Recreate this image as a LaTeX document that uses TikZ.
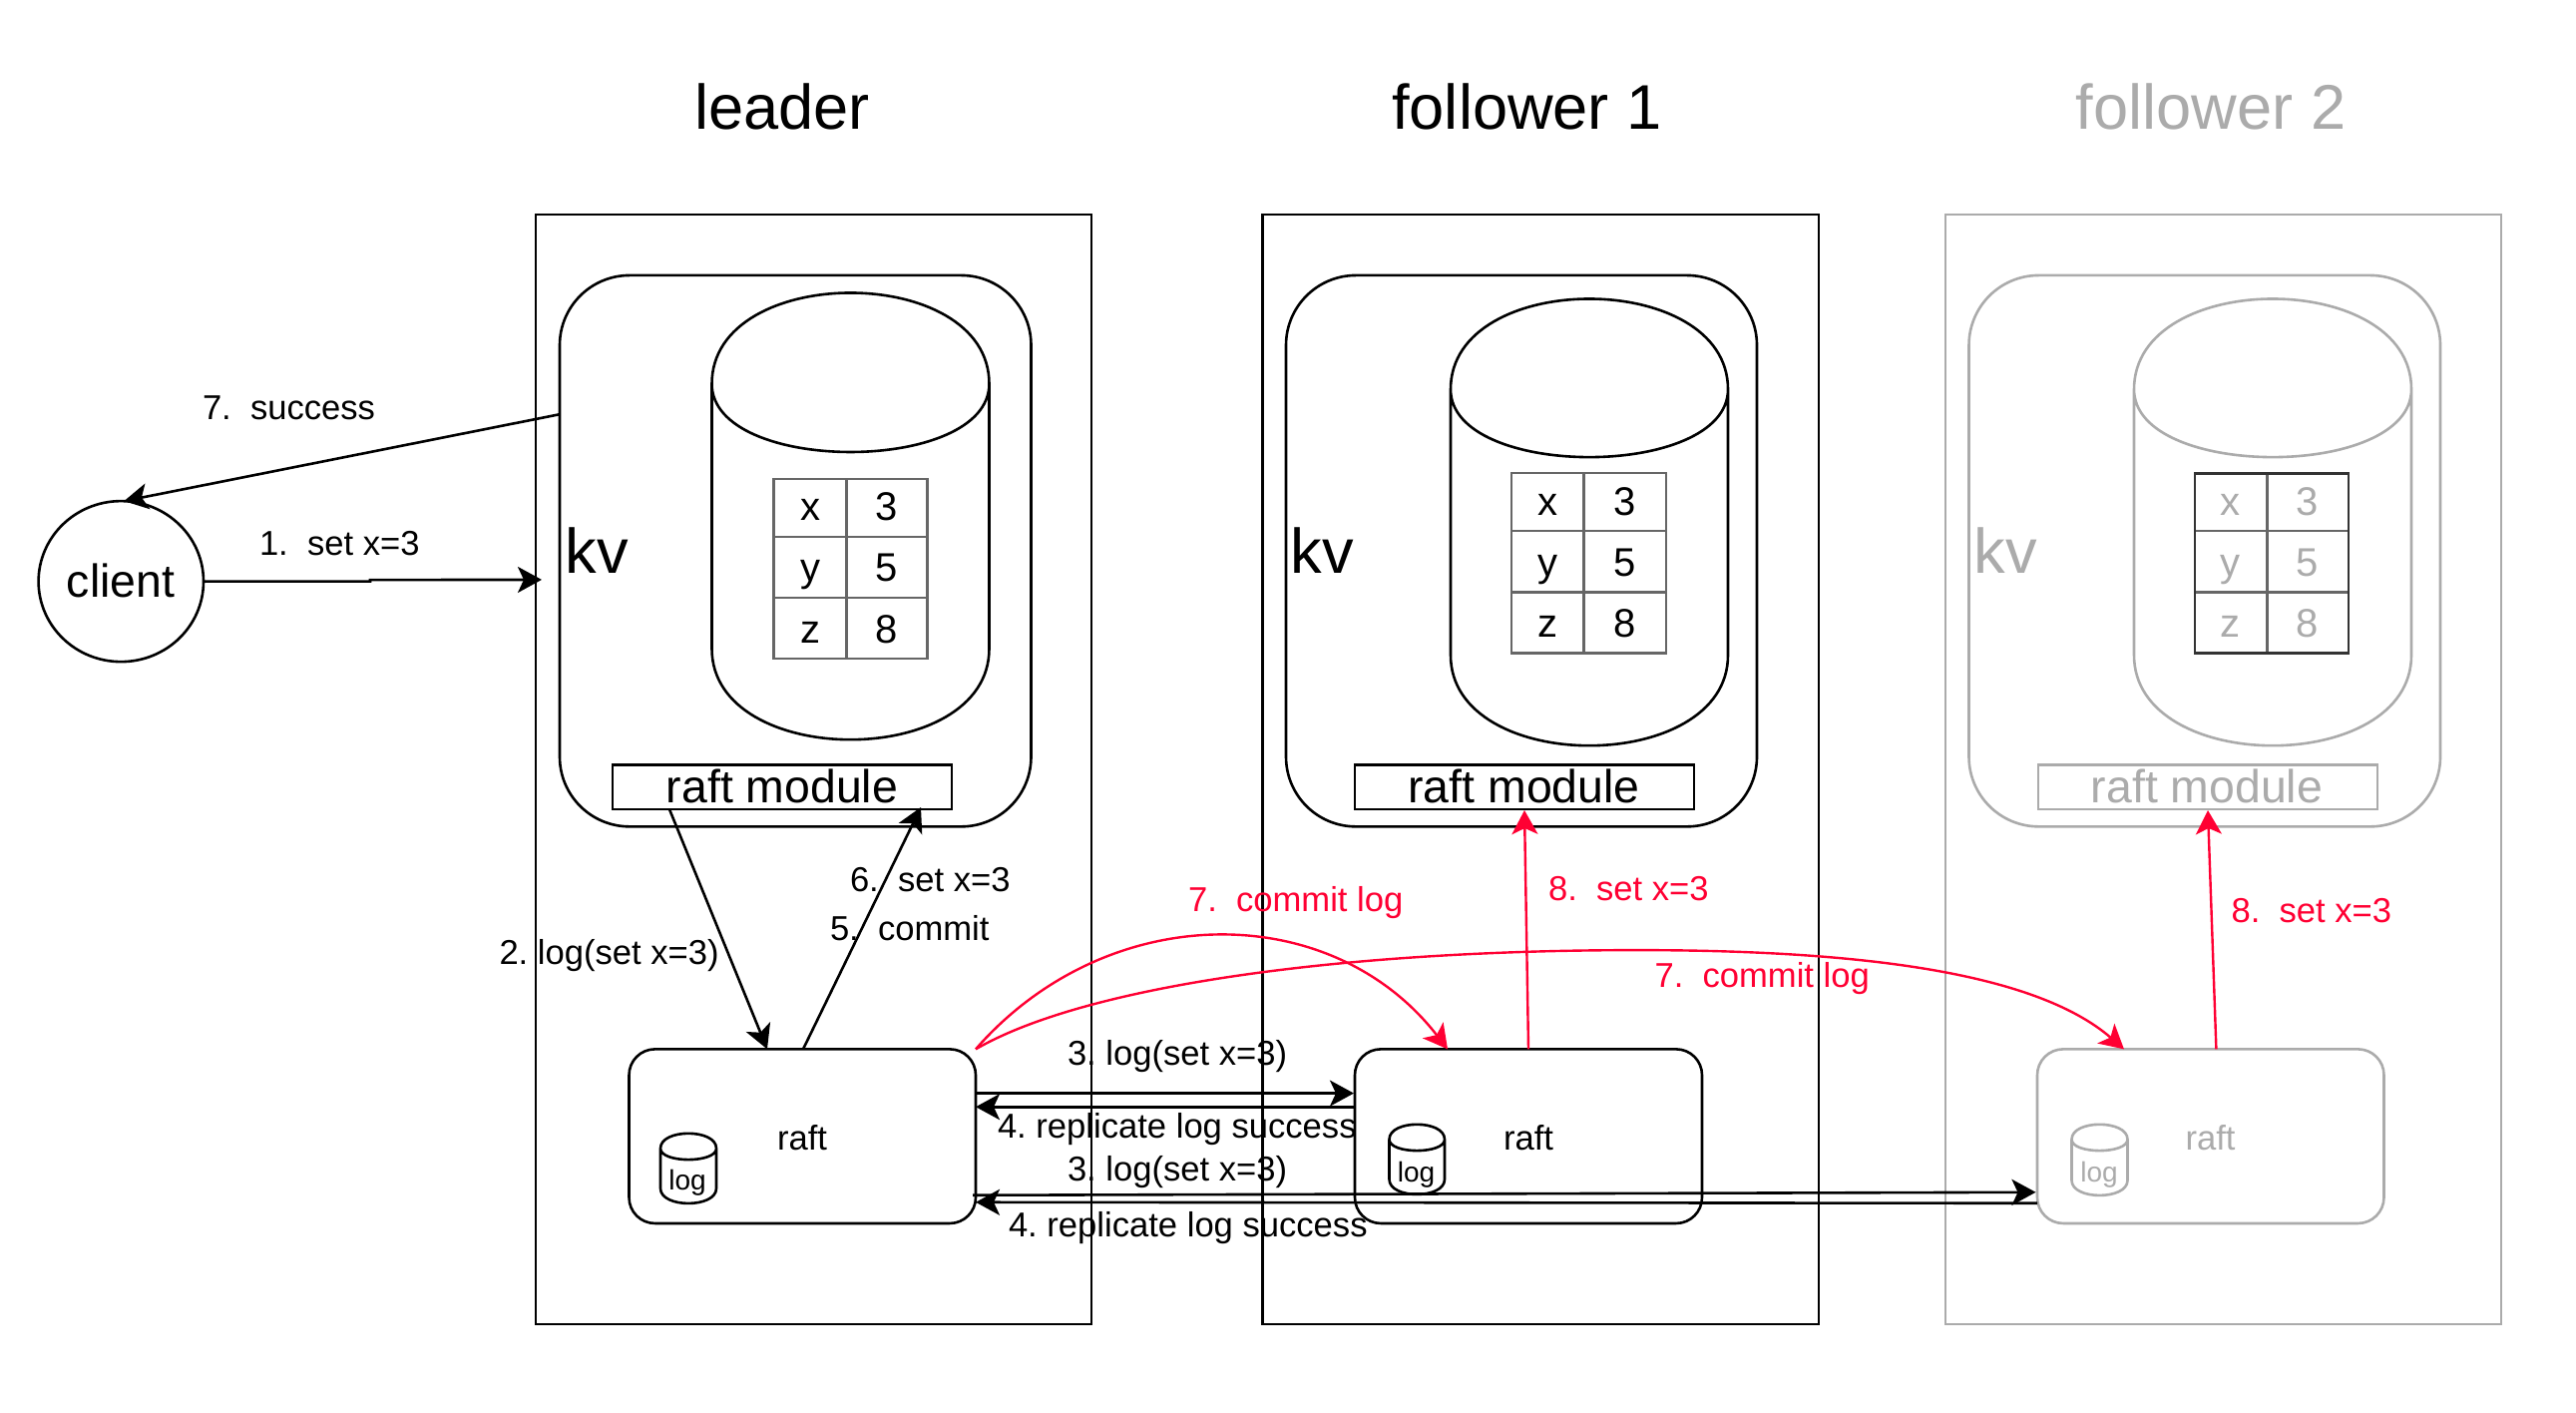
\documentclass[tikz,border=0pt]{standalone}
\usepackage{fontspec}
\setmainfont{Liberation Sans}
\usetikzlibrary{arrows.meta,calc,shapes.geometric}
\definecolor{fade}{HTML}{ABABAB}
\definecolor{alert}{HTML}{FF0033}
\definecolor{cellc}{HTML}{666666}
\newcommand\bx[6]{\node[#1,inner sep=0pt,outer sep=0pt,minimum width={(#5-#3)*0.5pt},minimum height={(#6-#4)*0.5008pt}] (#2) at ({(#3+#5)/2},{(#4+#6)/2}) {};}
\newcommand\cyl[6]{\draw[#6] (#1,{#2+#5}) .. controls (#1,{#2-#5/3}) and (#3,{#2-#5/3}) .. (#3,{#2+#5}) -- (#3,{#4-#5}) .. controls (#3,{#4+#5/3}) and (#1,{#4+#5/3}) .. (#1,{#4-#5}) -- cycle (#1,{#2+#5}) .. controls (#1,{#2+2*#5}) and (#3,{#2+2*#5}) .. (#3,{#2+#5});}
\tikzset{
  x=0.5pt,y=-0.5008pt,
  every path/.style={line width=1.3pt},
  >={Stealth[length=12pt,width=13pt,inset=3pt]},
  base/.style={inner sep=0pt,outer sep=0pt,anchor=base},
  basew/.style={inner sep=0pt,outer sep=0pt,anchor=base west},
  title/.style={base,font=\fontsize{31.6}{31.6}\selectfont},
  kvt/.style={base,font=\fontsize{31.6}{31.6}\selectfont},
  modt/.style={base,font=\fontsize{23.2}{23.2}\selectfont},
  cellt/.style={base,font=\fontsize{20}{20}\selectfont},
  lab/.style={basew,font=\fontsize{17.3}{17.3}\selectfont\frenchspacing},
  rft/.style={base,font=\fontsize{17.3}{17.3}\selectfont},
  logt/.style={base,font=\fontsize{14}{14}\selectfont},
  sq/.style={draw=#1,line width=1.3pt},
  rnd/.style 2 args={draw=#1,line width=1.3pt,rounded corners=#2},
  redarr/.style={->,alert,line width=1.2pt},
  blk/.style={->,black,line width=1.3pt},
}
\begin{document}
\begin{tikzpicture}
\useasboundingbox (0,0) rectangle (2582,1413.74);
\fill[white] (0,0) rectangle (2582,1413.74);
% titles
\node[title] (tl) at (784,129.5) {leader};
\node[title] (tf1) at (1530.5,129.5) {follower 1};
\node[title,text=fade] (tf2) at (2216,129.5) {follower 2};
% outer boxes
\bx{sq=black}{lbox}{537}{214.5}{1094}{1325}
\bx{sq=black}{f1box}{1265.5}{214.5}{1823}{1325}
\bx{sq=fade}{f2box}{1950}{214.5}{2507}{1325}
% kv boxes
\bx{rnd={black}{35pt}}{lkv}{561}{275.5}{1033.5}{827}
\bx{rnd={black}{35pt}}{f1kv}{1289}{275.5}{1761}{827}
\bx{rnd={fade}{35pt}}{f2kv}{1973.5}{275.5}{2446}{827}
% kv cylinders
\cyl{713.5}{293}{991.5}{740}{91}{black}
\cyl{1454}{299}{1732}{746}{90.5}{black}
\cyl{2139}{299}{2417}{746}{90.5}{fade}
% tables
\draw[cellc,line width=1.1pt] (775.5,479) rectangle (929.5,659) (848.5,479) -- (848.5,659) (775.5,537) -- (929.5,537) (775.5,598) -- (929.5,598);
\draw[cellc,line width=1.1pt] (1515,473.5) rectangle (1670,653.5) (1587.5,473.5) -- (1587.5,653.5) (1515,531.5) -- (1670,531.5) (1515,592.5) -- (1670,592.5);
\draw[cellc,line width=1.1pt] (2272.5,473.5) -- (2272.5,653.5) (2200,531.5) -- (2354,531.5) (2200,592.5) -- (2354,592.5);
\draw[black!80,line width=1.4pt] (2200,473.5) rectangle (2354,653.5);
\node[cellt] (lx) at (812,521) {x};
\node[cellt] (l3) at (889,521) {3};
\node[cellt] (ly) at (812,582) {y};
\node[cellt] (l5) at (889,582) {5};
\node[cellt] (lz) at (812,643) {z};
\node[cellt] (l8) at (889,643) {8};
\node[cellt] (ax) at (1551.5,516) {x};
\node[cellt] (a3) at (1628.5,516) {3};
\node[cellt] (ay) at (1551.5,576.5) {y};
\node[cellt] (a5) at (1628.5,576.5) {5};
\node[cellt] (az) at (1551.5,637.5) {z};
\node[cellt] (a8) at (1628.5,637.5) {8};
\node[cellt,text=fade] (bx) at (2235.5,516) {x};
\node[cellt,text=fade] (b3) at (2313,516) {3};
\node[cellt,text=fade] (by) at (2235.5,576.5) {y};
\node[cellt,text=fade] (b5) at (2313,576.5) {5};
\node[cellt,text=fade] (bz) at (2235.5,637.5) {z};
\node[cellt,text=fade] (b8) at (2313,637.5) {8};
% kv labels
\node[kvt] (lkvt) at (598,574) {kv};
\node[kvt] (f1kvt) at (1325.5,574) {kv};
\node[kvt,text=fade] (f2kvt) at (2010.5,574) {kv};
% raft module
\bx{sq=black}{lmod}{614}{765}{954}{809.7}
\bx{sq=black}{f1mod}{1358}{765}{1698}{809.7}
\bx{sq=fade}{f2mod}{2043}{765}{2383}{809.7}
\node[modt] (lmodt) at (784,803.5) {raft module};
\node[modt] (f1modt) at (1527.5,803.5) {raft module};
\node[modt,text=fade] (f2modt) at (2212,803.5) {raft module};
% raft boxes
\bx{rnd={black}{13pt}}{lraft}{630.5}{1049.7}{978}{1224}
\bx{rnd={black}{13pt}}{f1raft}{1358}{1049.7}{1706}{1224}
\bx{rnd={fade}{13pt}}{f2raft}{2042}{1049.7}{2389.5}{1224}
\node[rft] (lrt) at (804,1150.5) {raft};
\node[rft] (f1rt) at (1532,1150.5) {raft};
\node[rft,text=fade] (f2rt) at (2215.5,1150.5) {raft};
% log cylinders
\cyl{662}{1134}{718}{1204}{15}{black}
\cyl{1392.5}{1125}{1448}{1195}{15}{black}
\cyl{2076.5}{1125}{2132.5}{1196}{15}{fade}
\node[logt] (ll) at (689,1190.5) {log};
\node[logt] (f1l) at (1419.5,1183) {log};
\node[logt,text=fade] (f2l) at (2104,1183) {log};
% client
\node[draw,ellipse,inner sep=0pt,outer sep=0pt,minimum width=82.7pt,minimum height=80.5pt,line width=1.3pt] (client) at (121.3,581.7) {};
\node[modt] (clientt) at (121,597.5) {client};
\coordinate (kvin) at (543,580);
% connectors
\draw[blk] (client.east) -- ++(167,0) -- ++(0,-1.5) -- (kvin);
\draw[blk] ($(lkv.west)+(0,-136.7)$) -- ($(client.north)+(3,0)$);
\draw[blk] ($(lmod.south west)+(57,0)$) -- ($(lraft.north west)+(138.5,0)$);
\draw[blk] ($(lraft.north west)+(174.5,0)$) -- ($(lmod.south east)+(-31,-2)$);
\draw[blk] ($(lraft.east)+(0,-43)$) -- ($(f1raft.west)+(-1,-43)$);
\draw[blk] ($(f1raft.west)+(0,-29.4)$) -- ($(lraft.east)+(0,-29.4)$);
\draw[blk] ($(lraft.east)+(-3,59)$) -- ($(f2raft.west)+(-1.5,56)$);
\draw[blk] ($(f2raft.west)+(0,67)$) -- ($(lraft.east)+(0,66)$);
\draw[redarr] (lraft.north east) .. controls (1110,899) and (1334,899) .. ($(f1raft.north west)+(93,0)$);
\draw[redarr] (lraft.north east) .. controls (1090,985) and (1350,950.6) .. (1641,950.6) .. controls (1860,950.6) and (2039,972) .. ($(f2raft.north west)+(87,0)$);
\draw[redarr] ($(f1raft.north west)+(174,0)$) -- ($(f1mod.south west)+(170,1)$);
\draw[redarr] ($(f2raft.north west)+(179.4,0)$) -- ($(f2mod.south west)+(170,1)$);
% labels
\node[lab] (s7) at (203,420) {7.~~success};
\node[lab] (s1) at (260,556) {1.~~set x=3};
\node[lab] (s2) at (500.5,965) {2. log(set x=3)};
\node[lab] (s6) at (852,892) {6.~~set x=3};
\node[lab] (s5) at (832,941) {5.~~commit};
\node[lab] (s3a) at (1070,1066) {3. log(set x=3)};
\node[lab] (s4a) at (1000,1139) {4. replicate log success};
\node[lab] (s3b) at (1070,1182) {3. log(set x=3)};
\node[lab] (s4b) at (1011,1237.5) {4. replicate log success};
\node[lab,text=alert] (r7a) at (1191,912) {7.~~commit log};
\node[lab,text=alert] (r7b) at (1658.5,988) {7.~~commit log};
\node[lab,text=alert] (r8a) at (1552,901) {8.~~set x=3};
\node[lab,text=alert] (r8b) at (2236.5,923) {8.~~set x=3};
\end{tikzpicture}
\end{document}
